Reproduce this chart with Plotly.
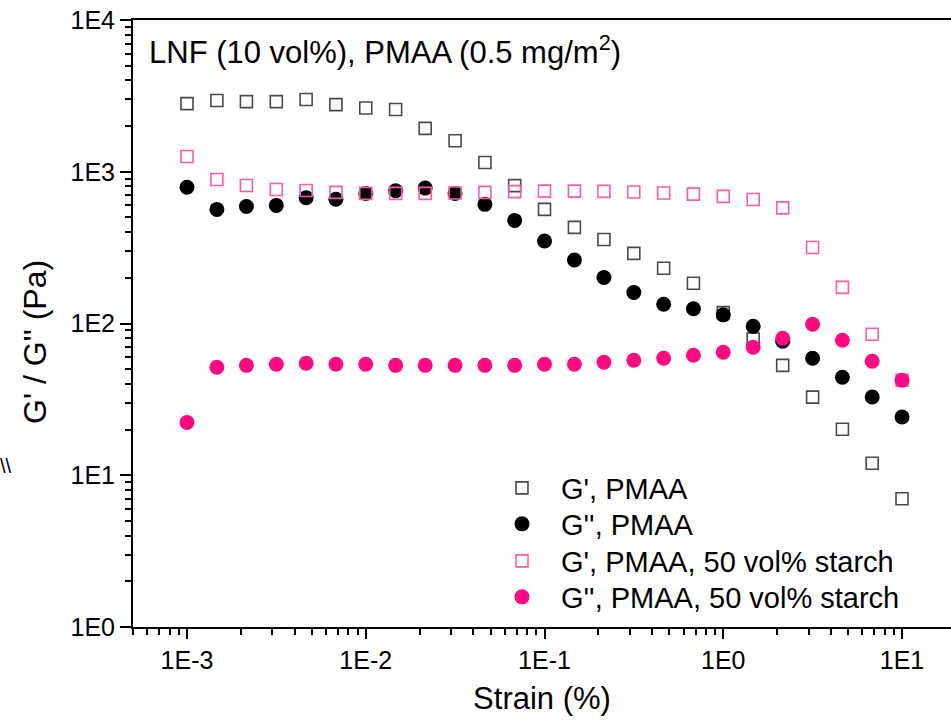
import plotly.graph_objects as go

strain = [0.001, 0.00147, 0.00215, 0.00316, 0.00464, 0.00681,
          0.01, 0.0147, 0.0215, 0.0316, 0.0464, 0.0681,
          0.1, 0.147, 0.215, 0.316, 0.464, 0.681,
          1.0, 1.47, 2.15, 3.16, 4.64, 6.81, 10.0]

g1_pmaa = [2810, 2950, 2900, 2900, 2990, 2770, 2630, 2570, 1930, 1600, 1150, 810,
           565, 430, 358, 290, 231, 184, 118, 79, 53, 32.7, 20.1, 12.0, 7.0]
g2_pmaa = [790, 565, 590, 600, 675, 660, 720, 750, 780, 720, 610, 478,
           350, 262, 201, 160, 134, 125, 114, 95.8, 76.4, 59, 44.2, 32.8, 24.2]
g1_starch = [1260, 890, 812, 764, 753, 731, 720, 720, 720, 725, 731, 740,
             745, 745, 742, 735, 725, 712, 688, 657, 578, 317, 173, 85, 42.3]
g2_starch = [22.3, 51.5, 53, 53.9, 54.7, 53.9, 53.9, 53, 53, 53, 53, 53,
             53.9, 53.9, 55.6, 57.3, 59, 61.8, 64.6, 69.7, 80, 98.8, 77.5, 56.4, 42.3]

names = ["G', PMAA", "G'', PMAA", "G', PMAA, 50 vol% starch", "G'', PMAA, 50 vol% starch"]

x_tickvals = [0.001, 0.01, 0.1, 1, 10]
x_ticktext = ["1E-3", "1E-2", "1E-1", "1E0", "1E1"]
y_tickvals = [1, 10, 100, 1000, 10000]
y_ticktext = ["1E0", "1E1", "1E2", "1E3", "1E4"]

FONT = "Liberation Sans, Arial, sans-serif"

# plot area geometry (pixels) used for paper-coordinate placement
PLOT_L, PLOT_W, PLOT_T, PLOT_B = 133, 818, 20, 627
def px_x(x):
    return (x - PLOT_L) / PLOT_W
def px_y(y):
    return (PLOT_B - y) / (PLOT_B - PLOT_T)

fig = go.Figure()
fig.add_trace(go.Scatter(x=strain, y=g1_pmaa, mode="markers", name=names[0], legend="legend",
                         showlegend=True,
                         marker=dict(symbol="square-open", size=12, color="#4a4a4a",
                                     line=dict(width=1.6))))
fig.add_trace(go.Scatter(x=strain, y=g2_pmaa, mode="markers", name=names[1], legend="legend2",
                         showlegend=True,
                         marker=dict(symbol="circle", size=15, color="black")))
fig.add_trace(go.Scatter(x=strain, y=g1_starch, mode="markers", name=names[2], legend="legend3",
                         showlegend=True,
                         marker=dict(symbol="square-open", size=12, color="#ff5aa8",
                                     line=dict(width=1.6))))
fig.add_trace(go.Scatter(x=strain, y=g2_starch, mode="markers", name=names[3], legend="legend4",
                         showlegend=True,
                         marker=dict(symbol="circle", size=15, color="#ff0a80")))

leg_rows = [488, 524, 561, 597]
def leg(ypx):
    return dict(x=px_x(483), y=px_y(ypx), xanchor="left", yanchor="middle",
                bgcolor="rgba(0,0,0,0)", font=dict(size=29, family=FONT, color="black"),
                itemwidth=68)

fig.update_layout(
    width=951, height=725,
    showlegend=True,
    margin=dict(l=133, r=0, t=20, b=98),
    paper_bgcolor="white", plot_bgcolor="white",
    font=dict(family=FONT, color="black"),
    xaxis=dict(type="log", range=[-3.302, 1.274],
               tickmode="array", tickvals=x_tickvals, ticktext=x_ticktext,
               tickfont=dict(size=25, family=FONT, color="black"),
               ticks="outside", ticklen=10, tickwidth=2, tickcolor="black",
               showline=True, linewidth=2, linecolor="black", mirror=True,
               showgrid=False, zeroline=False,
               minor=dict(ticks="outside", ticklen=6, tickwidth=1.5, tickcolor="black",
                          dtick="D1", showgrid=False),
               title=dict(text="Strain (%)", font=dict(size=31, family=FONT, color="black"),
                          standoff=14)),
    yaxis=dict(type="log", range=[0, 4],
               tickmode="array", tickvals=y_tickvals, ticktext=y_ticktext,
               tickfont=dict(size=25, family=FONT, color="black"),
               ticks="outside", ticklen=11, tickwidth=2, tickcolor="black",
               showline=True, linewidth=2, linecolor="black", mirror=False,
               showgrid=False, zeroline=False,
               minor=dict(ticks="outside", ticklen=6, tickwidth=1.5, tickcolor="black",
                          dtick="D1", showgrid=False)),
    legend=leg(leg_rows[0]),
    legend2=leg(leg_rows[1]),
    legend3=leg(leg_rows[2]),
    legend4=leg(leg_rows[3]),
    annotations=[
        dict(x=px_x(147), y=px_y(50), xref="paper", yref="paper",
             xanchor="left", yanchor="middle", showarrow=False,
             text="LNF (10 vol%), PMAA (0.5 mg/m<sup>2</sup>)",
             font=dict(size=31, family=FONT, color="black")),
        dict(x=px_x(35), y=px_y(342), xref="paper", yref="paper",
             xanchor="center", yanchor="middle", showarrow=False, textangle=-90,
             text="G' / G'' (Pa)",
             font=dict(size=32, family=FONT, color="black")),
        dict(x=px_x(6), y=px_y(466), xref="paper", yref="paper",
             xanchor="center", yanchor="middle", showarrow=False,
             text="\\\\", font=dict(size=20, family=FONT, color="black")),
    ],
)

fig.write_html("out.html")
